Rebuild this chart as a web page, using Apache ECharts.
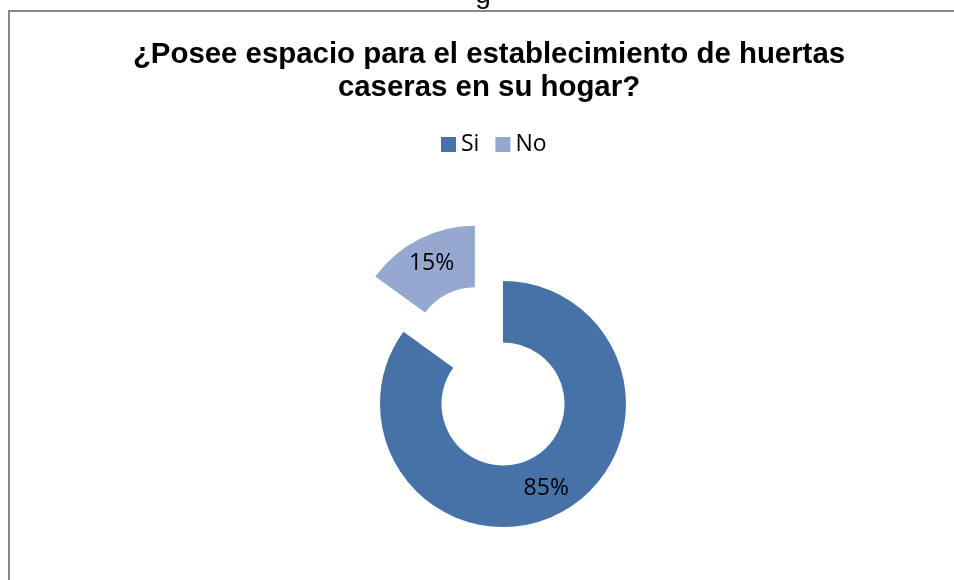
<!DOCTYPE html>
<html>
<head>
<meta charset="utf-8">
<script src="https://cdn.jsdelivr.net/npm/echarts@6/dist/echarts.min.js"></script>
<style>
html,body{margin:0;padding:0;background:#fff;}
#chart{width:954px;height:580px;}
</style>
</head>
<body>
<div id="chart"></div>
<script>
const titleText = '¿Posee espacio para el establecimiento de huertas\ncaseras en su hogar?';
const categories = ['Si', 'No'];
const values = [85, 15];
const colors = ['#4672A8', '#94A8D0'];

const chart = echarts.init(document.getElementById('chart'), null, {renderer: 'canvas'});
const data = categories.map((c, i) => ({
  name: c,
  value: values[i],
  selected: c === 'No',
  itemStyle: {color: colors[i]}
}));

chart.setOption({
  animation: false,
  backgroundColor: '#ffffff',
  title: {
    text: titleText,
    left: 484,
    top: 33,
    textAlign: 'center',
    textStyle: {
      fontFamily: 'Liberation Sans, Arial, sans-serif',
      fontWeight: 'bold',
      fontSize: 29.4,
      lineHeight: 33,
      color: '#000'
    }
  },
  legend: {
    data: categories,
    top: 133,
    left: 441,
    padding: 0,
    icon: 'rect',
    itemWidth: 15,
    itemHeight: 15,
    itemGap: 16,
    selectedMode: false,
    textStyle: {
      fontFamily: 'Open Sans, Noto Sans, sans-serif',
      fontSize: 23,
      color: '#000'
    }
  },
  graphic: [
    {
      type: 'rect',
      silent: true,
      shape: {x: 9, y: 11, width: 1100, height: 1000},
      style: {fill: 'none', stroke: '#888888', lineWidth: 2}
    },
    {
      type: 'text',
      silent: true,
      x: 483,
      y: -19,
      style: {
        text: 'g',
        font: '28px "Liberation Sans", Arial, sans-serif',
        fill: '#000',
        align: 'center',
        verticalAlign: 'top'
      }
    }
  ],
  series: [{
    type: 'pie',
    center: [503, 404],
    radius: [61.5, 123],
    startAngle: 90,
    clockwise: true,
    selectedMode: 'single',
    selectedOffset: 62,
    avoidLabelOverlap: false,
    label: {
      show: true,
      position: 'inside',
      formatter: '{c}%',
      fontFamily: 'Open Sans, Noto Sans, sans-serif',
      fontSize: 23,
      color: '#000'
    },
    labelLine: {show: false},
    emphasis: {disabled: true},
    itemStyle: {borderWidth: 0},
    data: data
  }]
});
</script>
</body>
</html>
